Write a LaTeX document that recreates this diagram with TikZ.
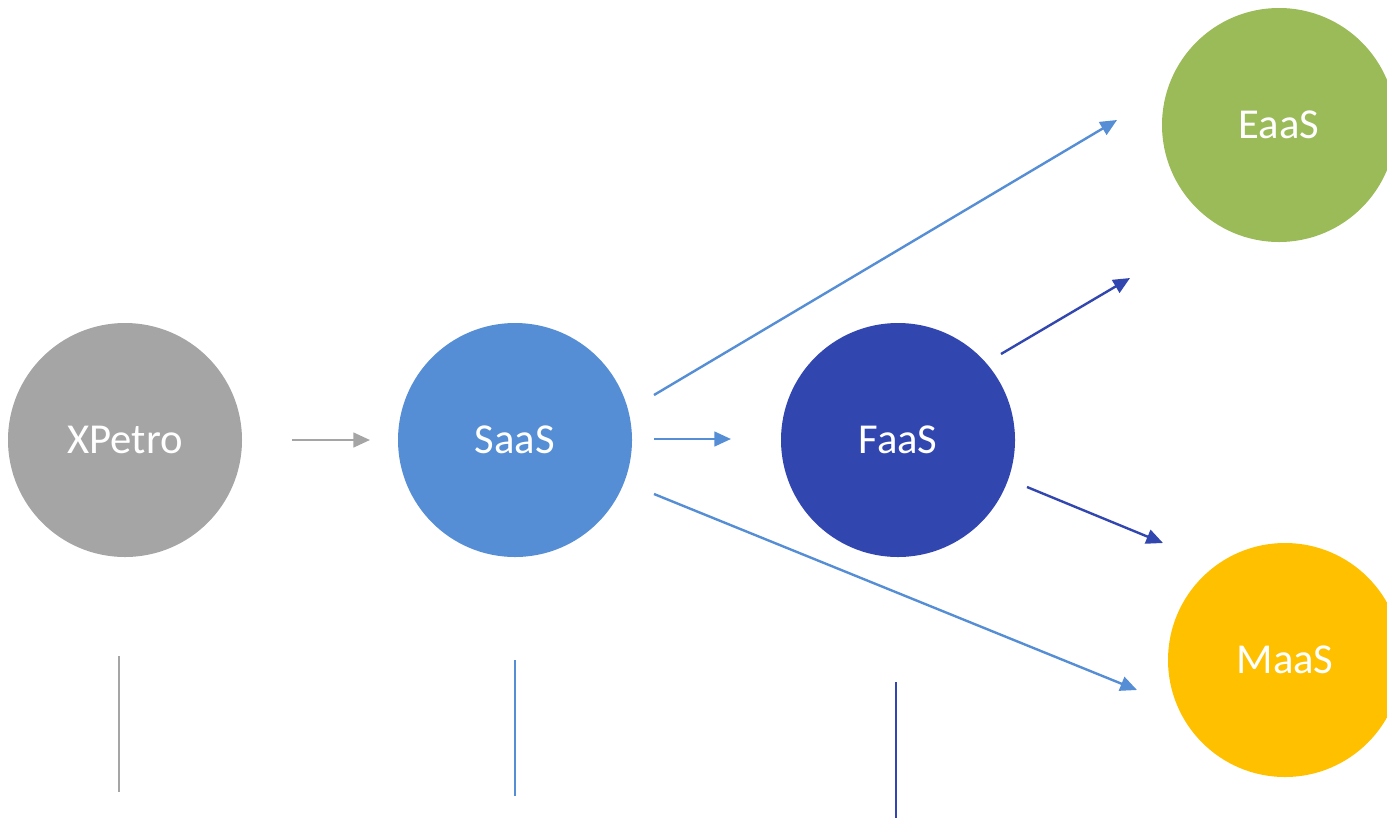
\documentclass[tikz,border=0pt]{standalone}
\usepackage{fontspec}
\setmainfont{Carlito}
\usetikzlibrary{arrows.meta}
\definecolor{cgray}{HTML}{A5A5A5}
\definecolor{cblue}{HTML}{558ED5}
\definecolor{cdark}{HTML}{3246B0}
\definecolor{cgreen}{HTML}{9BBB59}
\definecolor{cyellow}{HTML}{FFC000}
\tikzset{
  ball/.style={circle, minimum size=175.5pt, inner sep=0pt, text=white, font=\fontsize{32}{38}\selectfont},
  conn/.style={line width=1.8pt, -{Triangle[length=12.5pt,width=11pt]}},
  tick/.style={line width=1.8pt}
}
\begin{document}
\begin{tikzpicture}[x=0.75pt,y=-0.75pt]
\useasboundingbox (0,0) rectangle (1387,818);
\clip (0,0) rectangle (1387,818);
\node[ball, fill=cgray] (xp) at (125,440) {XPetro};
\node[ball, fill=cblue] (saas) at (515,440) {SaaS};
\node[ball, fill=cdark] (faas) at (898,440) {FaaS};
\node[ball, fill=cgreen] (eaas) at (1279,125) {EaaS};
\node[ball, fill=cyellow] (maas) at (1285,660) {MaaS};
% arrow endpoints
\coordinate (a1s) at (292,440); \coordinate (a1e) at (370,440);
\coordinate (a2s) at (654,439); \coordinate (a2e) at (731,439);
\coordinate (a3s) at (654,395); \coordinate (a3e) at (1117,120);
\coordinate (a4s) at (654,494); \coordinate (a4e) at (1137,690);
\coordinate (a5s) at (1001,354); \coordinate (a5e) at (1130,278);
\coordinate (a6s) at (1027,487); \coordinate (a6e) at (1163,543);
\draw[conn, cgray] (a1s) -- (a1e);
\draw[conn, cblue] (a2s) -- (a2e);
\draw[conn, cblue] (a3s) -- (a3e);
\draw[conn, cblue] (a4s) -- (a4e);
\draw[conn, cdark] (a5s) -- (a5e);
\draw[conn, cdark] (a6s) -- (a6e);
% vertical lines
\coordinate (v1s) at (119,656); \coordinate (v1e) at (119,792);
\coordinate (v2s) at (515,660); \coordinate (v2e) at (515,796);
\coordinate (v3s) at (896,682); \coordinate (v3e) at (896,818);
\draw[tick, cgray] (v1s) -- (v1e);
\draw[tick, cblue] (v2s) -- (v2e);
\draw[tick, cdark] (v3s) -- (v3e);
\end{tikzpicture}
\end{document}
